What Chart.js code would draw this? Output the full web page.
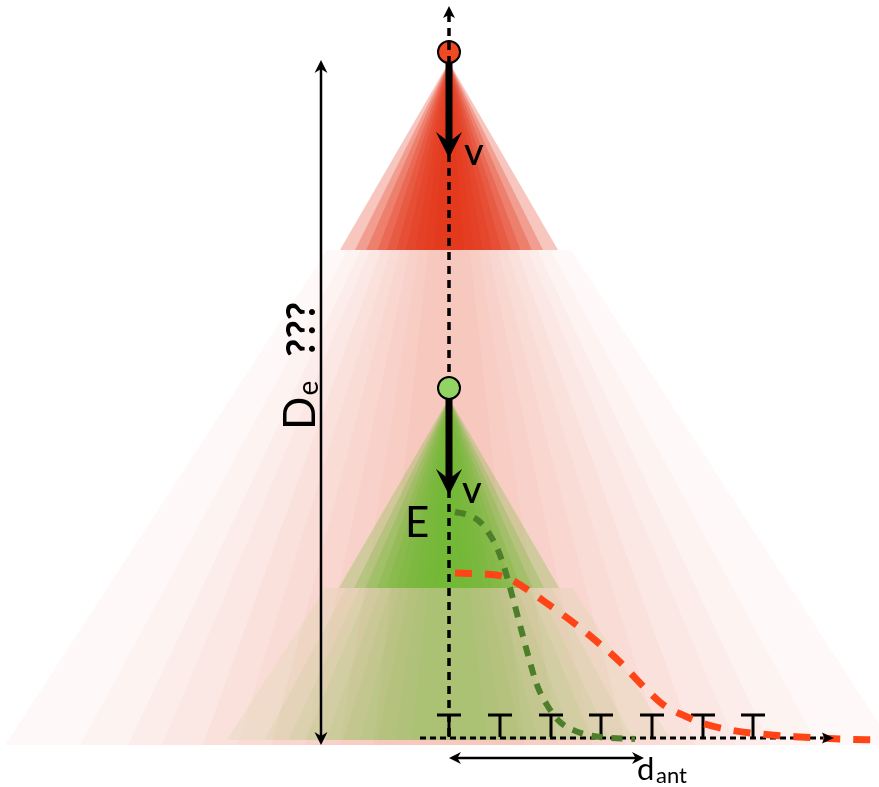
<!DOCTYPE html>
<html>
<head>
<meta charset="utf-8">
<script src="https://cdn.jsdelivr.net/npm/chart.js@4.4.1/dist/chart.umd.min.js"></script>
<style>
  html, body { margin: 0; padding: 0; background: #ffffff; }
  #wrap { width: 879px; height: 787px; position: relative; }
</style>
</head>
<body>
<div id="wrap"><canvas id="diagram"></canvas></div>
<script>
// =============================================================================
// Emission cones of a far (red) and a near (green) source above an antenna row
// units: x to the right, y downward (same frame as the picture)
// =============================================================================

// ---- sources ----
const sourceNames = ['far', 'near'];
const sourceX = [449, 449];
const sourceY = [52, 388];
const coneApexY = [62, 398];
const coneCoreEndY = [250, 588];
const coneGroundY = [745, 740];
const velocityEndY = [158, 495];

// ---- cone layers (half-width per unit of depth) ----
const coreSpread = [0.58, 0.50, 0.44, 0.38, 0.33, 0.28, 0.23, 0.18, 0.13, 0.08];
const faintSpread = [0.65, 0.54, 0.47, 0.42, 0.36, 0.31, 0.26, 0.21, 0.16, 0.11];

// ---- footprints on the ground ----
const greenCurveX = [455, 468, 480, 490, 498, 505, 512, 520, 528, 537, 547, 560, 578, 600, 635];
const greenCurveY = [512, 515, 522, 535, 550, 570, 595, 625, 655, 685, 705, 722, 732, 737, 739];
const redCurveX = [455, 480, 505, 525, 545, 570, 595, 620, 645, 665, 685, 705, 730, 760, 800, 840, 879];
const redCurveY = [573, 574, 577, 588, 602, 620, 640, 662, 688, 706, 716, 724, 730, 734, 737, 739, 740];

// ---- antennas ----
const antennaX = [449, 500, 551, 601, 652, 703, 753];
const antennaTopY = 715;
const antennaBaseY = 737;

// ---- guides ----
const axisLineX = [449, 449];
const axisLineY = [14, 740];
const groundLineX = [420, 828];
const groundLineY = [738, 738];
const depthArrowX = 321;
const depthArrowY = [60, 745];
const spacingArrowX = [449, 644];
const spacingArrowY = 758;

// ==========================================
// helpers
// ==========================================
const pts = (xs, ys) => xs.map((x, i) => ({ x, y: ys[i] }));

const antennaPoints = antennaX.flatMap(x => [
    { x: x - 12, y: antennaTopY }, { x: x + 12, y: antennaTopY }, { x, y: null },
    { x, y: antennaTopY }, { x, y: antennaBaseY }, { x, y: null }
]);

const palette = {
    far: { rgb: '228,52,20', core: 0.28, faint: 0.032, dot: '#f04a22' },
    near: { rgb: '112,182,50', core: 0.28, faint: 0.075, dot: '#92d464' }
};

function poly(ctx, xs, ys, sx, sy) {
    ctx.beginPath();
    xs.forEach((x, i) => {
        const px = sx.getPixelForValue(x), py = sy.getPixelForValue(ys[i]);
        i ? ctx.lineTo(px, py) : ctx.moveTo(px, py);
    });
    ctx.closePath();
    ctx.fill();
}

function arrowHead(ctx, sx, sy, tipX, tipY, dirX, dirY, len, half, notch) {
    const tx = sx.getPixelForValue(tipX), ty = sy.getPixelForValue(tipY);
    const bx = tx - dirX * len, by = ty - dirY * len;
    const nx = -dirY, ny = dirX;
    ctx.beginPath();
    ctx.moveTo(tx, ty);
    ctx.lineTo(bx + nx * half, by + ny * half);
    ctx.lineTo(tx - dirX * len * notch, ty - dirY * len * notch);
    ctx.lineTo(bx - nx * half, by - ny * half);
    ctx.closePath();
    ctx.fill();
}

// ==========================================
// cone plugin (drawn under the datasets)
// ==========================================
const conePlugin = {
    id: 'cones',
    beforeDatasetsDraw(chart) {
        const { ctx, scales: { x: sx, y: sy }, chartArea } = chart;
        ctx.save();
        ctx.beginPath();
        ctx.rect(chartArea.left, chartArea.top, chartArea.width, chartArea.height);
        ctx.clip();
        sourceNames.forEach((name, i) => {
            const c = palette[name];
            const ax = sourceX[i], ay = coneApexY[i];
            const y1 = coneCoreEndY[i], y2 = coneGroundY[i];
            // faint tail of the cone
            ctx.fillStyle = `rgba(${c.rgb},${c.faint})`;
            faintSpread.forEach(s => {
                poly(ctx,
                    [ax - s * (y1 - ay), ax + s * (y1 - ay), ax + s * (y2 - ay), ax - s * (y2 - ay)],
                    [y1, y1, y2, y2], sx, sy);
            });
            // bright core of the cone
            ctx.fillStyle = `rgba(${c.rgb},${c.core})`;
            coreSpread.forEach(s => {
                poly(ctx, [ax, ax + s * (y1 - ay), ax - s * (y1 - ay)], [ay, y1, y1], sx, sy);
            });
        });
        ctx.restore();
    },
    afterDatasetsDraw(chart) {
        const { ctx, scales: { x: sx, y: sy } } = chart;
        ctx.save();
        ctx.fillStyle = '#000';
        // velocity arrows
        sourceNames.forEach((name, i) => {
            arrowHead(ctx, sx, sy, sourceX[i], velocityEndY[i], 0, 1, 26, 13, 0.62);
        });
        // top of the dotted axis
        arrowHead(ctx, sx, sy, axisLineX[0], 6, 0, -1, 12, 6, 0.75);
        // ground axis
        arrowHead(ctx, sx, sy, groundLineX[1] + 6, groundLineY[0], 1, 0, 12, 5.5, 0.8);
        // depth arrow
        arrowHead(ctx, sx, sy, depthArrowX, depthArrowY[0], 0, -1, 13, 6.5, 0.7);
        arrowHead(ctx, sx, sy, depthArrowX, depthArrowY[1], 0, 1, 13, 6.5, 0.7);
        // antenna spacing arrow
        arrowHead(ctx, sx, sy, spacingArrowX[0], spacingArrowY, -1, 0, 12, 6, 0.7);
        arrowHead(ctx, sx, sy, spacingArrowX[1], spacingArrowY, 1, 0, 12, 6, 0.7);

        // labels
        const X = v => sx.getPixelForValue(v), Y = v => sy.getPixelForValue(v);
        ctx.textBaseline = 'alphabetic';
        ctx.textAlign = 'left';
        ctx.font = '500 38px Lato, "Open Sans", sans-serif';
        ctx.fillText('v', X(464), Y(165));
        ctx.fillText('v', X(462), Y(503));
        ctx.font = '42px Lato, "Open Sans", sans-serif';
        ctx.fillText('E', X(405), Y(537));

        // d_ant
        ctx.font = '31px Lato, "Open Sans", sans-serif';
        ctx.fillText('d', X(637), Y(780));
        ctx.font = '22px Lato, "Open Sans", sans-serif';
        ctx.fillText('ant', X(656), Y(783));

        // D_e ???  (rotated, reading upward)
        ctx.save();
        ctx.translate(X(315), Y(430));
        ctx.rotate(-Math.PI / 2);
        ctx.font = '44px Lato, "Open Sans", sans-serif';
        ctx.fillText('D', 0, 0);
        const dW = ctx.measureText('D').width;
        ctx.font = '28px Lato, "Open Sans", sans-serif';
        ctx.fillText('e', dW + 1, 3);
        ctx.font = 'bold 40px Lato, "Open Sans", sans-serif';
        ctx.fillText('???', 73, 0);
        ctx.restore();

        ctx.restore();
    }
};

// ==========================================
// datasets
// ==========================================
const datasets = [
    {   // near source
        data: [{ x: sourceX[1], y: sourceY[1] }],
        pointRadius: 11, pointBackgroundColor: palette.near.dot,
        pointBorderColor: '#000', pointBorderWidth: 2, order: 0
    },
    {   // velocity shafts
        data: [
            { x: sourceX[0], y: coneApexY[0] }, { x: sourceX[0], y: velocityEndY[0] - 14 }, { x: sourceX[0], y: null },
            { x: sourceX[1], y: coneApexY[1] }, { x: sourceX[1], y: velocityEndY[1] - 14 }
        ],
        showLine: true, borderColor: '#000', borderWidth: 7, pointRadius: 0, order: 1
    },
    {   // dotted vertical axis
        data: pts(axisLineX, axisLineY),
        showLine: true, borderColor: '#000', borderWidth: 3.5, borderDash: [8, 6],
        pointRadius: 0, order: 2
    },
    {   // far source
        data: [{ x: sourceX[0], y: sourceY[0] }],
        pointRadius: 11, pointBackgroundColor: palette.far.dot,
        pointBorderColor: '#000', pointBorderWidth: 2, order: 3
    },
    {   // far footprint
        data: pts(redCurveX, redCurveY),
        showLine: true, borderColor: '#ff4517', borderWidth: 7, borderDash: [17, 13],
        cubicInterpolationMode: 'monotone', pointRadius: 0, order: 4
    },
    {   // near footprint
        data: pts(greenCurveX, greenCurveY),
        showLine: true, borderColor: '#4d7f2a', borderWidth: 6, borderDash: [11, 9],
        cubicInterpolationMode: 'monotone', pointRadius: 0, order: 5
    },
    {   // antennas
        data: antennaPoints,
        showLine: true, spanGaps: false, borderColor: '#000', borderWidth: 3,
        pointRadius: 0, order: 6
    },
    {   // ground axis
        data: pts(groundLineX, groundLineY),
        showLine: true, borderColor: '#000', borderWidth: 3, borderDash: [6, 4],
        pointRadius: 0, order: 7
    },
    {   // depth + spacing arrow shafts
        data: [
            { x: depthArrowX, y: depthArrowY[0] + 8 }, { x: depthArrowX, y: depthArrowY[1] - 8 }, { x: depthArrowX, y: null },
            { x: spacingArrowX[0] + 8, y: spacingArrowY }, { x: spacingArrowX[1] - 8, y: spacingArrowY }
        ],
        showLine: true, borderColor: '#000', borderWidth: 2.5, pointRadius: 0, order: 8
    }
];

new Chart(document.getElementById('diagram'), {
    type: 'scatter',
    data: { datasets },
    options: {
        responsive: true,
        maintainAspectRatio: false,
        animation: false,
        events: [],
        layout: { padding: 0, autoPadding: false },
        plugins: { legend: { display: false }, tooltip: { enabled: false } },
        scales: {
            x: { type: 'linear', min: 0, max: 879, display: false },
            y: { type: 'linear', min: 0, max: 787, reverse: true, display: false }
        }
    },
    plugins: [conePlugin]
});
</script>
</body>
</html>
